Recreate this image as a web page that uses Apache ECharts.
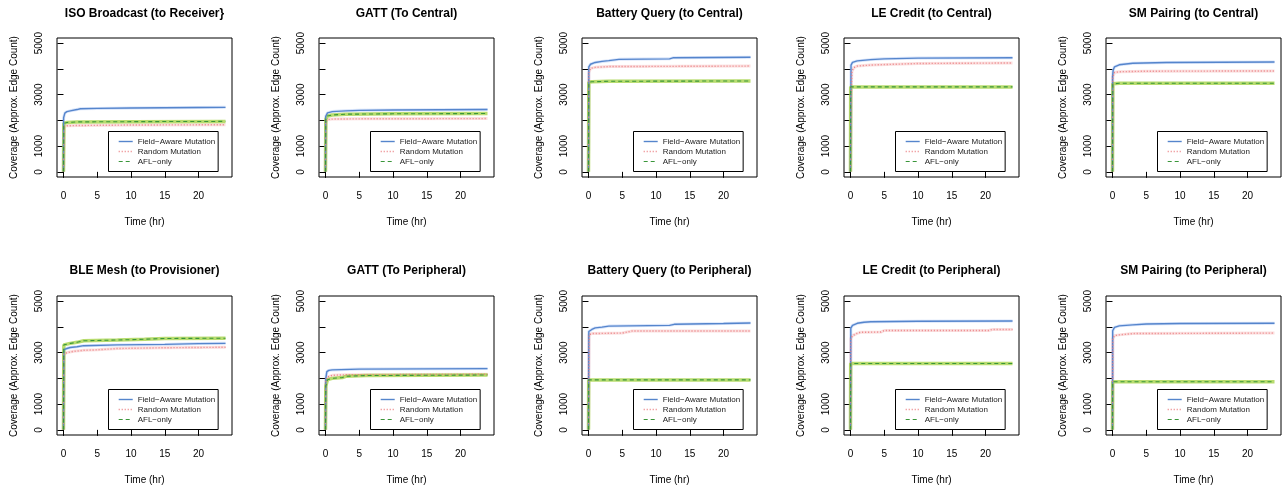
<!DOCTYPE html>
<html><head><meta charset="utf-8">
<script src="https://cdn.jsdelivr.net/npm/echarts@6/dist/echarts.min.js"></script>
<style>html,body{margin:0;padding:0;background:#fff}#c{width:1282px;height:488px}</style>
</head><body><div id="c"></div>
<script>
// ---- labels ----
const panelTitles = [
  'ISO Broadcast (to Receiver}', 'GATT (To Central)', 'Battery Query (to Central)', 'LE Credit (to Central)', 'SM Pairing (to Central)',
  'BLE Mesh (to Provisioner)', 'GATT (To Peripheral)', 'Battery Query (to Peripheral)', 'LE Credit (to Peripheral)', 'SM Pairing (to Peripheral)'
];
const methodNames = ['Field\u2212Aware Mutation', 'Random Mutation', 'AFL\u2212only'];
const xTicks = [0, 5, 10, 15, 20];
const yTicks = [0, 1000, 2000, 3000, 4000, 5000];
const yTickLabels = [0, 1000, 3000, 5000];
const xName = 'Time (hr)';
const yName = 'Coverage (Approx. Edge Count)';

// ---- data: [time (hr), coverage] ----
const isoRecvField  = [[0,0],[0.02,2100],[0.2,2280],[0.5,2340],[1,2370],[2,2420],[2.5,2450],[5,2465],[10,2480],[15,2490],[20,2500],[24,2505]];
const isoRecvRandom = [[0,0],[0.1,1760],[0.5,1790],[2,1800],[10,1820],[24,1830]];
const isoRecvAfl    = [[0,0],[0.05,1880],[0.5,1920],[2,1940],[10,1950],[24,1960]];

const gattCenField  = [[0,0],[0.03,2150],[0.3,2290],[1,2340],[3,2370],[5,2390],[10,2405],[24,2420]];
const gattCenRandom = [[0,0],[0.05,1950],[0.3,2030],[1,2050],[5,2060],[24,2070]];
const gattCenAfl    = [[0,0],[0.05,2050],[0.3,2170],[1,2210],[3,2240],[10,2255],[24,2265]];

const battCenField  = [[0,0],[0.05,4080],[0.3,4180],[1,4250],[2,4290],[3,4320],[4.5,4370],[12,4390],[12.5,4430],[24,4450]];
const battCenRandom = [[0,0],[0.05,3850],[0.3,4020],[1,4060],[3,4090],[24,4110]];
const battCenAfl    = [[0,0],[0.05,3480],[0.5,3500],[3,3520],[24,3530]];

const leCenField    = [[0,0],[0.02,1200],[0.08,4150],[0.3,4250],[1,4310],[3,4360],[5,4390],[10,4420],[24,4430]];
const leCenRandom   = [[0,0],[0.05,1500],[0.1,3000],[0.2,3900],[0.5,4050],[1,4110],[3,4150],[10,4210],[24,4230]];
const leCenAfl      = [[0,0],[0.03,3300],[24,3300]];

const smCenField    = [[0,0],[0.02,3700],[0.1,3950],[0.3,4080],[1,4160],[3,4220],[8,4250],[24,4270]];
const smCenRandom   = [[0,0],[0.05,3700],[0.3,3860],[1,3890],[5,3910],[24,3920]];
const smCenAfl      = [[0,0],[0.05,3420],[1,3440],[24,3440]];

const meshProvField  = [[0,0],[0.05,3120],[0.5,3160],[1,3200],[2,3230],[3,3270],[8,3300],[15,3320],[20,3350],[24,3360]];
const meshProvRandom = [[0,0],[0.05,2940],[0.5,3000],[1.5,3050],[3,3090],[5,3110],[8,3160],[15,3190],[24,3210]];
const meshProvAfl    = [[0,0],[0.05,3300],[1,3360],[2,3400],[3,3460],[8,3490],[12,3520],[15,3550],[24,3560]];

const gattPerField  = [[0,0],[0.05,2000],[0.2,2260],[0.5,2310],[1,2330],[5,2360],[24,2380]];
const gattPerRandom = [[0,0],[0.05,1900],[0.2,2040],[1,2120],[3,2140],[24,2160]];
const gattPerAfl    = [[0,0],[0.05,1700],[0.3,1950],[1,2000],[2.5,2030],[3,2080],[6,2110],[24,2130]];

const battPerField  = [[0,0],[0.05,3820],[0.5,3900],[1,3960],[2,3990],[3,4030],[12,4060],[12.7,4100],[20,4130],[24,4150]];
const battPerRandom = [[0,0],[0.1,3700],[0.5,3740],[5,3760],[6.5,3840],[24,3840]];
const battPerAfl    = [[0,0],[0.03,1940],[24,1940]];

const lePerField    = [[0,0],[0.05,3950],[0.3,4060],[1,4140],[2,4180],[3,4200],[10,4220],[24,4230]];
const lePerRandom   = [[0,0],[0.05,3550],[0.3,3660],[1,3750],[1.5,3790],[4.5,3800],[5,3860],[20.5,3860],[21,3900],[24,3900]];
const lePerAfl      = [[0,0],[0.03,2580],[24,2580]];

const smPerField    = [[0,0],[0.03,3850],[0.3,3980],[1,4040],[3,4080],[5,4110],[10,4130],[24,4140]];
const smPerRandom   = [[0,0],[0.05,3550],[0.3,3660],[1,3690],[3,3740],[24,3760]];
const smPerAfl      = [[0,0],[0.03,1870],[24,1870]];

const panelSeries = [
  [isoRecvField, isoRecvRandom, isoRecvAfl],
  [gattCenField, gattCenRandom, gattCenAfl],
  [battCenField, battCenRandom, battCenAfl],
  [leCenField, leCenRandom, leCenAfl],
  [smCenField, smCenRandom, smCenAfl],
  [meshProvField, meshProvRandom, meshProvAfl],
  [gattPerField, gattPerRandom, gattPerAfl],
  [battPerField, battPerRandom, battPerAfl],
  [lePerField, lePerRandom, lePerAfl],
  [smPerField, smPerRandom, smPerAfl]
];

// ---- styles ----
const FONT = 'Liberation Sans, Arial, Helvetica, sans-serif';
const lineColors = ['#5585CC', '#EA7F82', '#3A963A'];
const bandColors = ['rgba(100,149,237,0.25)', 'rgba(240,128,128,0.25)', 'rgba(154,205,50,0.7)'];
const lineTypes = ['solid', [1, 2], [4, 3]];
const lineWidths = [1.4, 1.4, 1.1];
const bandWidths = [3, 3, 3.5];

const gridLefts = [57, 319, 582, 844, 1106];
const gridTops = [38, 296];
const GW = 175, GH = 139;

const grids = [], xAxes = [], yAxes = [], series = [], legends = [], graphics = [];
panelSeries.forEach((sets, i) => {
  const col = i % 5, row = Math.floor(i / 5);
  const gl = gridLefts[col], gt = gridTops[row];
  grids.push({ left: gl, top: gt, width: GW, height: GH, show: true, borderColor: '#000', borderWidth: 1, backgroundColor: '#fff', containLabel: false });
  xAxes.push({
    type: 'value', gridIndex: i, min: -0.96, max: 24.96,
    axisLine: { show: false }, splitLine: { show: false },
    axisTick: { show: true, inside: false, length: 6, lineStyle: { color: '#000', width: 1 }, customValues: xTicks },
    axisLabel: { show: true, margin: 14, fontSize: 10, color: '#000', fontFamily: FONT, customValues: xTicks, formatter: v => String(v) },
    name: xName, nameLocation: 'middle', nameGap: 40,
    nameTextStyle: { fontSize: 10, color: '#000', fontFamily: FONT }
  });
  yAxes.push({
    type: 'value', gridIndex: i, min: -200, max: 5200,
    axisLine: { show: false }, splitLine: { show: false },
    axisTick: { show: true, inside: false, length: 6, lineStyle: { color: '#000', width: 1 }, customValues: yTicks },
    axisLabel: { show: true, rotate: 90, margin: 13, fontSize: 10, color: '#000', fontFamily: FONT, customValues: yTickLabels, formatter: v => String(v) },
    name: yName, nameLocation: 'middle', nameGap: 38, nameRotate: 90,
    nameTextStyle: { fontSize: 10, color: '#000', fontFamily: FONT }
  });
  sets.forEach((d, k) => {
    series.push({
      type: 'line', name: methodNames[k] + ' band', xAxisIndex: i, yAxisIndex: i, data: d,
      symbol: 'none', silent: true, z: 2,
      lineStyle: { color: bandColors[k], width: bandWidths[k], type: 'solid' }
    });
    series.push({
      type: 'line', name: methodNames[k], xAxisIndex: i, yAxisIndex: i, data: d,
      symbol: 'none', silent: true, z: 3, color: lineColors[k],
      lineStyle: { color: lineColors[k], width: lineWidths[k], type: lineTypes[k] }
    });
  });
  legends.push({
    data: methodNames, orient: 'vertical', left: gl + 51.5, top: gt + 93.5,
    itemWidth: 14, itemHeight: 8, itemGap: 2, padding: [6, 3, 6, 9.5],
    borderColor: '#000', borderWidth: 1, borderRadius: 0, backgroundColor: '#fff',
    selectedMode: false, itemStyle: { opacity: 0 },
    lineStyle: { width: 'inherit', color: 'inherit', type: 'inherit' },
    textStyle: { fontSize: 8, color: '#222', fontFamily: FONT }
  });
  graphics.push({
    type: 'text', x: gl + GW / 2, y: row === 0 ? 13.5 : 271,
    style: { text: panelTitles[i], font: 'bold 12px ' + FONT, fill: '#000', textAlign: 'center', textVerticalAlign: 'middle' }
  });
});

const chart = echarts.init(document.getElementById('c'), null, { renderer: 'canvas' });
chart.setOption({
  animation: false,
  backgroundColor: '#fff',
  grid: grids, xAxis: xAxes, yAxis: yAxes, series: series, legend: legends, graphic: graphics
});
</script></body></html>
